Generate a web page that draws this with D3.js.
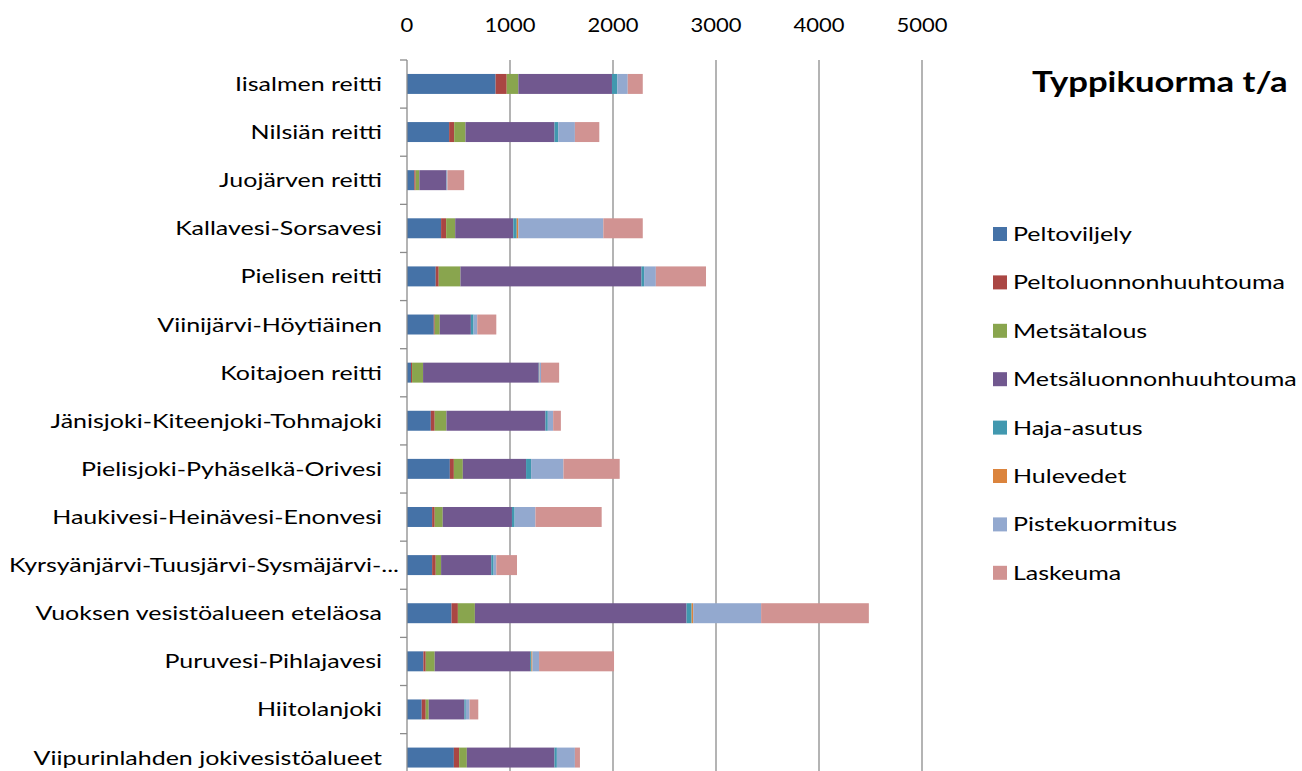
<!DOCTYPE html>
<html>
<head>
<meta charset="utf-8">
<script src="https://cdn.jsdelivr.net/npm/d3@7"></script>
<style>
  html, body { margin: 0; padding: 0; background: #fff; }
  svg { display: block; }
  text { font-family: Lato, "Open Sans", sans-serif; fill: #000; }
</style>
</head>
<body>
<svg id="chart" width="1302" height="771"></svg>
<script>
const categories = [
  "Iisalmen reitti",
  "Nilsiän reitti",
  "Juojärven reitti",
  "Kallavesi-Sorsavesi",
  "Pielisen reitti",
  "Viinijärvi-Höytiäinen",
  "Koitajoen reitti",
  "Jänisjoki-Kiteenjoki-Tohmajoki",
  "Pielisjoki-Pyhäselkä-Orivesi",
  "Haukivesi-Heinävesi-Enonvesi",
  "Kyrsyänjärvi-Tuusjärvi-Sysmäjärvi-...",
  "Vuoksen vesistöalueen eteläosa",
  "Puruvesi-Pihlajavesi",
  "Hiitolanjoki",
  "Viipurinlahden jokivesistöalueet"
];
const seriesNames = ["Peltoviljely", "Peltoluonnonhuuhtouma", "Metsätalous", "Metsäluonnonhuuhtouma", "Haja-asutus", "Hulevedet", "Pistekuormitus", "Laskeuma"];
const peltoviljely          = [860, 409, 71, 331, 279, 260, 39, 231, 416, 244, 244, 432, 159, 143, 455];
const peltoluonnonhuuhtouma = [108, 49, 13, 49, 29, 9, 10, 38, 39, 25, 35, 62, 23, 39, 51];
const metsatalous           = [113, 110, 36, 88, 211, 49, 107, 114, 87, 78, 52, 165, 87, 29, 75];
const metsaluonnonhuuhtouma = [909, 864, 263, 564, 1757, 302, 1123, 961, 614, 672, 487, 2055, 926, 347, 851];
const hajaAsutus            = [52, 36, 3, 33, 26, 26, 5, 23, 49, 26, 23, 49, 13, 13, 23];
const hulevedet             = [0, 0, 0, 16, 0, 0, 3, 0, 0, 0, 0, 16, 10, 0, 0];
const pistekuormitus        = [101, 162, 7, 825, 114, 36, 14, 52, 314, 202, 26, 659, 64, 36, 175];
const laskeuma              = [146, 237, 162, 383, 487, 185, 176, 75, 546, 643, 201, 1046, 728, 85, 49];
const xTicks = [0, 1000, 2000, 3000, 4000, 5000];
const colors = ["#4572A7", "#AA4643", "#89A54E", "#71588F", "#4198AF", "#DB843D", "#93A9CF", "#D19392"];
const title = "Typpikuorma t/a";

const seriesArrays = [peltoviljely, peltoluonnonhuuhtouma, metsatalous, metsaluonnonhuuhtouma, hajaAsutus, hulevedet, pistekuormitus, laskeuma];
const rows = categories.map((c, i) => {
  const r = { category: c };
  seriesNames.forEach((s, j) => r[s] = seriesArrays[j][i]);
  return r;
});

const svg = d3.select("#chart");
const x = d3.scaleLinear().domain([0, 5000]).range([407, 922]);
const y = d3.scaleBand().domain(categories).range([60, 60 + 15 * 48.1]).paddingInner(0.585).paddingOuter(0.29);
const SX = 1.25; // horizontal text stretch to match reference glyph widths

// gridlines
svg.append("g").selectAll("line").data(xTicks.filter(d => d > 0)).join("line")
  .attr("x1", d => x(d)).attr("x2", d => x(d))
  .attr("y1", 60).attr("y2", 771)
  .attr("stroke", "#8c8c8c").attr("stroke-width", 1.3);

// top axis labels
svg.append("g").selectAll("text").data(xTicks).join("text")
  .attr("transform", d => `translate(${x(d)},32) scale(1.1,1)`)
  .attr("text-anchor", "middle")
  .style("font-size", "20px")
  .text(d => d);

// stacked bars
const stack = d3.stack().keys(seriesNames);
const stacked = stack(rows);
svg.append("g").selectAll("g").data(stacked).join("g")
  .attr("fill", (d, i) => colors[i])
  .selectAll("rect").data(d => d).join("rect")
  .attr("x", d => x(d[0]))
  .attr("width", d => Math.max(0, x(d[1]) - x(d[0])))
  .attr("y", d => y(d.data.category))
  .attr("height", y.bandwidth());

// left axis line and ticks
const band = y.step();
svg.append("line").attr("x1", 407).attr("x2", 407).attr("y1", 60).attr("y2", 771)
  .attr("stroke", "#8c8c8c").attr("stroke-width", 1.3);
svg.append("g").selectAll("line").data(d3.range(categories.length + 1)).join("line")
  .attr("x1", 400).attr("x2", 407)
  .attr("y1", i => 60 + i * band).attr("y2", i => 60 + i * band)
  .attr("stroke", "#8c8c8c").attr("stroke-width", 1.3);

// category labels
svg.append("g").selectAll("text").data(categories).join("text")
  .attr("transform", d => `translate(${d.endsWith("...") ? 399 : 382},${y(d) + y.bandwidth() / 2}) scale(${SX},1)`)
  .attr("dy", "0.35em")
  .attr("text-anchor", "end")
  .style("font-size", "20px")
  .text(d => d);

// title
svg.append("text")
  .attr("transform", `translate(1032,92) scale(1.24,1)`)
  .style("font-size", "28px").style("font-weight", "bold")
  .text(title);

// legend
const legend = svg.append("g").selectAll("g").data(seriesNames).join("g")
  .attr("transform", (d, i) => `translate(993, ${234 + i * 48.4})`);
legend.append("rect").attr("x", 0).attr("y", -7).attr("width", 14).attr("height", 14)
  .attr("fill", (d, i) => colors[i]);
legend.append("text")
  .attr("transform", `translate(20,0) scale(${SX},1)`)
  .attr("dy", "0.35em")
  .style("font-size", "20px")
  .text(d => d);
</script>
</body>
</html>
